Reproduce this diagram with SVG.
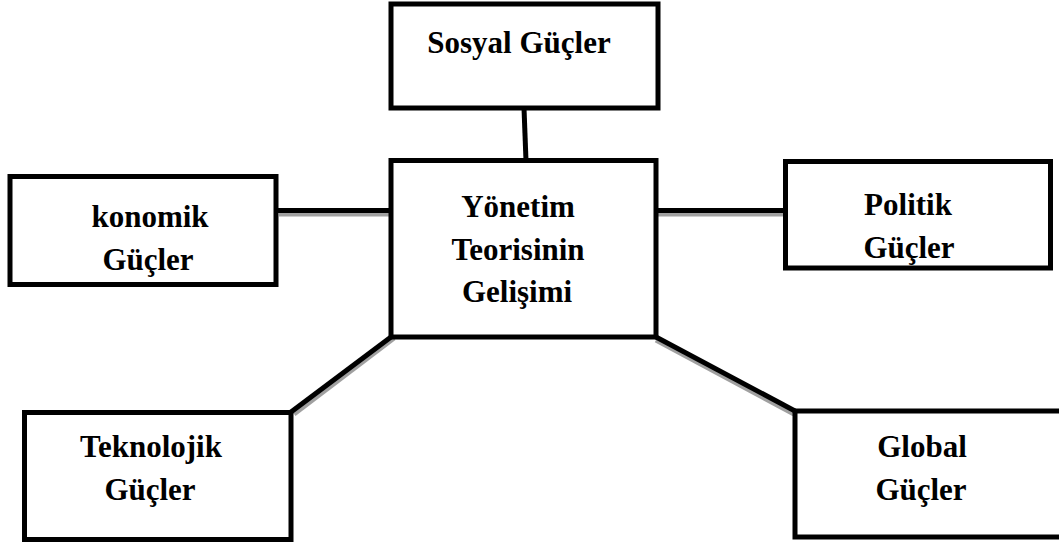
<svg xmlns="http://www.w3.org/2000/svg" width="1059" height="545" viewBox="0 0 1059 545">
<style>
.box{fill:#fff;stroke:#000;stroke-width:5}
.sh{fill:none;stroke:#a0a0a0;stroke-width:5}
.ln{fill:none;stroke:#000;stroke-width:5}
.t{font-family:'Liberation Serif','DejaVu Serif',serif;font-weight:bold;font-size:31px;fill:#000;text-anchor:middle}
</style>
<rect width="1059" height="545" fill="#fff"/>
<g id="connectors">
<line class="sh" x1="279" y1="214" x2="391" y2="214"/>
<line class="sh" x1="658" y1="214" x2="785" y2="214"/>
<line class="sh" x1="294" y1="414" x2="394" y2="338"/>
<line class="sh" x1="656" y1="340" x2="794" y2="414"/>
<line class="ln" x1="524" y1="108" x2="526" y2="161"/>
<line class="ln" x1="276" y1="210.5" x2="391" y2="210.5"/>
<line class="ln" x1="656" y1="210.5" x2="785" y2="210.5"/>
<line class="ln" x1="291" y1="412" x2="391" y2="337"/>
<line class="ln" x1="656" y1="337" x2="795" y2="411"/>
</g>
<g id="sosyal">
<rect class="box" x="391" y="4" width="267" height="104"/>
<text class="t" x="519" y="53" font-family="Liberation Serif">Sosyal Güçler</text>
</g>
<g id="merkez">
<rect class="box" x="391" y="160.5" width="265" height="176.5"/>
<text class="t" x="518" y="217">Yönetim</text>
<text class="t" x="518" y="260">Teorisinin</text>
<text class="t" x="517" y="302">Gelişimi</text>
</g>
<g id="ekonomik">
<rect class="box" x="10" y="176.5" width="266" height="108"/>
<text class="t" x="150" y="227">konomik</text>
<text class="t" x="148" y="270">Güçler</text>
</g>
<g id="politik">
<rect class="box" x="785.5" y="161.5" width="265" height="106.5"/>
<text class="t" x="908" y="215">Politik</text>
<text class="t" x="909" y="258">Güçler</text>
</g>
<g id="teknolojik">
<rect class="box" x="24.5" y="412.5" width="266.5" height="127"/>
<text class="t" x="151" y="457">Teknolojik</text>
<text class="t" x="150" y="500">Güçler</text>
</g>
<g id="global">
<rect class="box" x="795" y="411" width="280" height="126"/>
<text class="t" x="922" y="457">Global</text>
<text class="t" x="921" y="500">Güçler</text>
</g>
</svg>
